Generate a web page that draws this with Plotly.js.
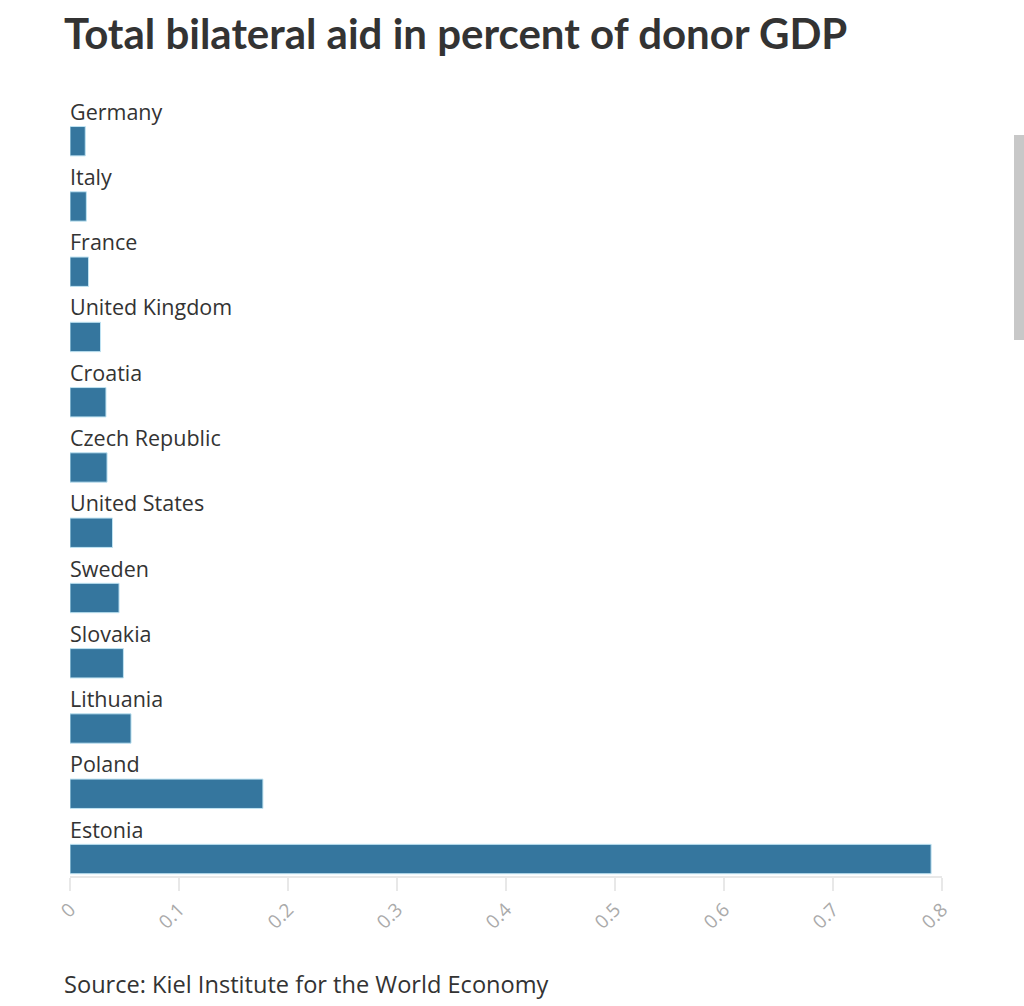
<!DOCTYPE html>
<html>
<head>
<meta charset="utf-8">
<script src="https://cdn.plot.ly/plotly-3.0.1.min.js"></script>
<style>
html,body{margin:0;padding:0;background:#fff;overflow:hidden;}
#chart{width:1024px;height:1006px;}
#sb{position:absolute;left:1014px;top:135px;width:10px;height:205px;background:#c8c8c8;}
</style>
</head>
<body>
<div id="chart"></div>
<div id="sb"></div>
<script>
const countries = ["Germany","Italy","France","United Kingdom","Croatia","Czech Republic","United States","Sweden","Slovakia","Lithuania","Poland","Estonia"];
const aidPctGDP = [0.014,0.015,0.017,0.028,0.033,0.034,0.039,0.045,0.049,0.056,0.177,0.790];
const xTicks = [0,0.1,0.2,0.3,0.4,0.5,0.6,0.7,0.8];
const xTickLabels = ["0","0.1","0.2","0.3","0.4","0.5","0.6","0.7","0.8"];

const idx = countries.map((c,i)=>i);

const trace = {
  type: "bar",
  orientation: "h",
  x: aidPctGDP,
  y: idx,
  width: 0.45,
  marker: {color: "#35769e", line: {color: "#bfe3f2", width: 1}},
  hoverinfo: "skip"
};

const annotations = countries.map((c,i)=>({
  x: 0, y: i, xref: "x", yref: "y",
  text: c, showarrow: false,
  xanchor: "left", yanchor: "middle",
  xshift: -2, yshift: 30,
  font: {family: "'Open Sans', 'Noto Sans', sans-serif", size: 21.5, color: "#333"}
}));
annotations.push({
  x: 0, y: 0, xref: "paper", yref: "paper",
  xshift: -8, yshift: -108,
  text: "Source: Kiel Institute for the World Economy",
  showarrow: false, xanchor: "left", yanchor: "middle",
  font: {family: "'Open Sans', 'Noto Sans', sans-serif", size: 23.6, color: "#333"}
});

const layout = {
  width: 1024, height: 1006,
  margin: {l: 70, r: 82, t: 89, b: 130},
  paper_bgcolor: "#fff", plot_bgcolor: "#fff",
  showlegend: false,
  title: {
    text: "<b>Total bilateral aid in percent of donor GDP</b>",
    x: 0, xref: "paper", xanchor: "left", xshift: 0,
    y: 0.966, yref: "container", yanchor: "middle",
    pad: {l: -6},
    font: {family: "Lato, 'Open Sans', sans-serif", size: 42, color: "#333"}
  },
  xaxis: {
    range: [0, 0.8],
    tickvals: xTicks, ticktext: xTickLabels,
    tickangle: -45,
    ticks: "outside", ticklen: 13, tickcolor: "#e8e8e8", tickwidth: 2,
    showline: true, linecolor: "#e8e8e8", linewidth: 2,
    showgrid: false, zeroline: false,
    tickfont: {family: "'Open Sans', 'Noto Sans', sans-serif", size: 19, color: "#aaa"}
  },
  yaxis: {
    range: [11.26, -0.8],
    showticklabels: false, showgrid: false, zeroline: false, showline: false,
    ticks: ""
  },
  annotations: annotations
};

Plotly.newPlot("chart", [trace], layout, {displayModeBar: false, staticPlot: true});
</script>
</body>
</html>
